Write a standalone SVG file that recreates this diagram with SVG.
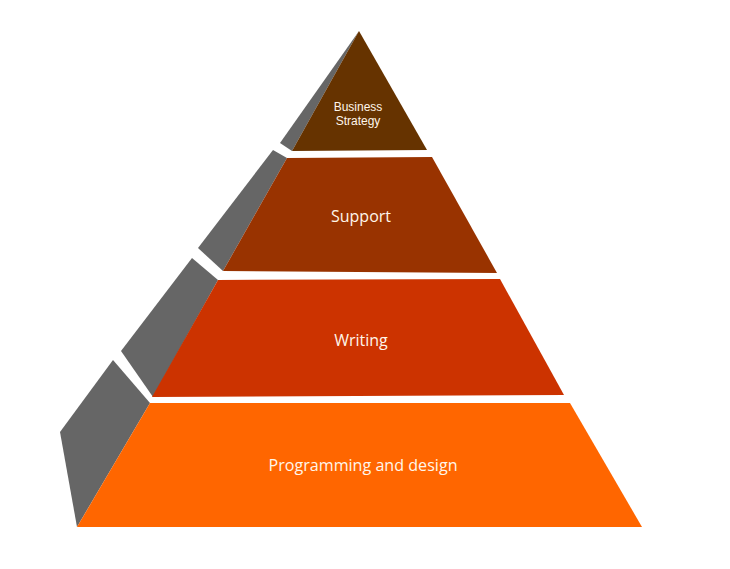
<svg xmlns="http://www.w3.org/2000/svg" width="730" height="569" viewBox="0 0 730 569">
  <style>
    .side { fill: #666666; }
    .lbl { font-family: "Open Sans", "Liberation Sans", sans-serif; fill: #fff6ea; text-anchor: middle; }
    .big { font-size: 16px; }
    .small { font-family: "Liberation Sans", Arial, sans-serif; font-size: 12px; }
  </style>
  <rect x="0" y="0" width="730" height="569" fill="#ffffff"/>
  <g id="side-faces">
    <polygon class="side" points="359,31 280,143 292,151"/>
    <polygon class="side" points="273,150 287,158 223,271 198,248"/>
    <polygon class="side" points="192,258 218,280 153,397 121,351"/>
    <polygon class="side" points="113,360 150,403 77,527 60,432"/>
  </g>
  <g id="level-business-strategy">
    <polygon points="359,31 427,150 292,151" fill="#663300"/>
    <text class="lbl small" x="358" y="111">Business</text>
    <text class="lbl small" x="358" y="125">Strategy</text>
  </g>
  <g id="level-support">
    <polygon points="287,158 432,157 497,273 223,271" fill="#993300"/>
    <text class="lbl big" x="361" y="222">Support</text>
  </g>
  <g id="level-writing">
    <polygon points="218,280 500,279 564,395 152,397" fill="#cc3300"/>
    <text class="lbl big" x="361" y="346">Writing</text>
  </g>
  <g id="level-programming">
    <polygon points="150,403 570,403 642,527 77,527" fill="#ff6600"/>
    <text class="lbl big" x="363" y="471" textLength="189" lengthAdjust="spacingAndGlyphs">Programming and design</text>
  </g>
  <g id="connectors"></g>
</svg>
